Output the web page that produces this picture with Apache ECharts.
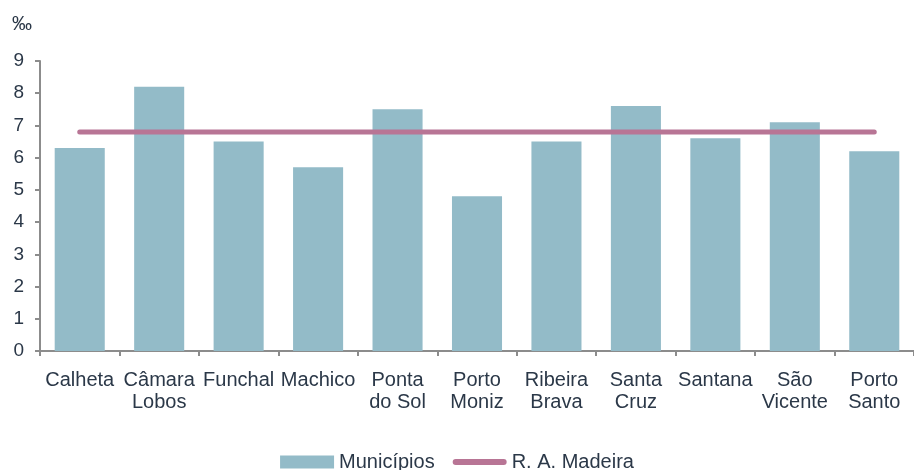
<!DOCTYPE html>
<html>
<head>
<meta charset="utf-8">
<script src="https://cdn.jsdelivr.net/npm/echarts@6/dist/echarts.min.js"></script>
<style>
  html, body { margin: 0; padding: 0; background: #fff; }
  #chart { width: 914px; height: 470px; }
</style>
</head>
<body>
<div id="chart"></div>
<script>
const categories = ['Calheta', 'Câmara\nLobos', 'Funchal', 'Machico', 'Ponta\ndo Sol', 'Porto\nMoniz',
  'Ribeira\nBrava', 'Santa\nCruz', 'Santana', 'São\nVicente', 'Porto\nSanto']
const municipios = [6.3, 8.2, 6.5, 5.7, 7.5, 4.8, 6.5, 7.6, 6.6, 7.1, 6.2]
const madeira = [6.8, 6.8, 6.8, 6.8, 6.8, 6.8, 6.8, 6.8, 6.8, 6.8, 6.8]

const textColor = '#2b3848'
const font = 'Liberation Sans, Arial, sans-serif'

const chart = echarts.init(document.getElementById('chart'))
chart.setOption({
  animation: false,
  textStyle: { fontFamily: font },
  grid: { left: 40, right: -6, top: 61, bottom: 119 },
  graphic: [{
    type: 'text', left: 12, top: 14,
    style: { text: '‰', fontSize: 20, fill: textColor, fontFamily: font }
  }],
  legend: {
    bottom: -7,
    left: 'center',
    itemGap: 18,
    itemWidth: 54,
    itemHeight: 13,
    symbolKeepAspect: true,
    textStyle: { fontSize: 20, color: textColor, fontFamily: font },
    data: [
      { name: 'Municípios', icon: 'rect' },
      { name: 'R. A. Madeira', icon: 'path://M3,0 L51,0 A3,3 0 0 1 51,6 L3,6 A3,3 0 0 1 3,0 Z' }
    ]
  },
  xAxis: {
    type: 'category',
    data: categories,
    axisLine: { lineStyle: { color: '#8c8c8c', width: 2 } },
    axisTick: { show: true, length: 5, lineStyle: { color: '#8c8c8c', width: 2 } },
    axisLabel: { fontSize: 20, color: textColor, lineHeight: 22, margin: 18, interval: 0 }
  },
  yAxis: {
    type: 'value',
    min: 0, max: 9, interval: 1,
    splitLine: { show: false },
    axisLine: { show: true, lineStyle: { color: '#8c8c8c', width: 2 } },
    axisTick: { show: true, length: 5, lineStyle: { color: '#8c8c8c', width: 2 } },
    axisLabel: { fontSize: 19, color: textColor, margin: 16 }
  },
  series: [
    {
      name: 'Municípios',
      type: 'bar',
      data: municipios,
      barCategoryGap: '37%',
      itemStyle: { color: '#93bbc8' }
    },
    {
      name: 'R. A. Madeira',
      type: 'line',
      data: madeira,
      symbol: 'none',
      lineStyle: { color: '#b87595', width: 5, cap: 'round' },
      itemStyle: { color: '#b87595' }
    }
  ]
})
</script>
</body>
</html>
